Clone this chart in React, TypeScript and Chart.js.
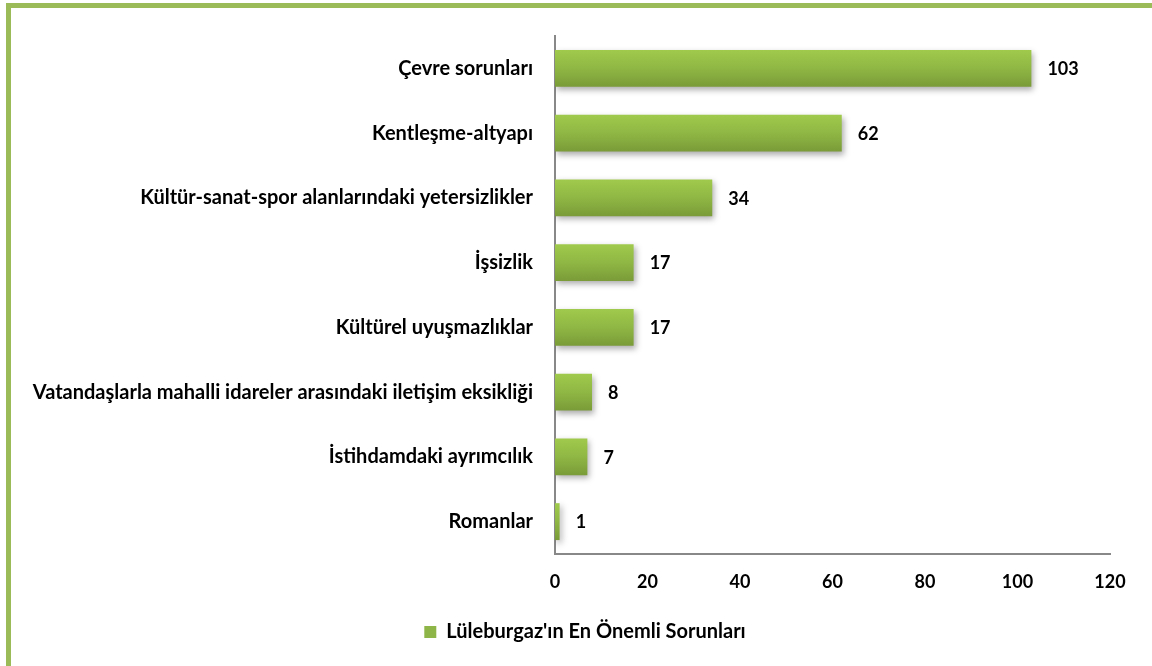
import React, { useEffect, useRef } from "react";
import { Chart, registerables } from "chart.js";

Chart.register(...registerables);

const categories = [
  "Çevre sorunları",
  "Kentleşme-altyapı",
  "Kültür-sanat-spor alanlarındaki yetersizlikler",
  "İşsizlik",
  "Kültürel uyuşmazlıklar",
  "Vatandaşlarla mahalli idareler arasındaki iletişim eksikliği",
  "İstihdamdaki ayrımcılık",
  "Romanlar",
];
const values = [103, 62, 34, 17, 17, 8, 7, 1];
const seriesName = "Lüleburgaz'ın En Önemli Sorunları";
const xTicks = [0, 20, 40, 60, 80, 100, 120];

const FONT = "Lato, 'Open Sans', sans-serif";
const BAR_PCT = 0.57;

export default function App() {
  const ref = useRef<HTMLCanvasElement | null>(null);

  useEffect(() => {
    const canvas = ref.current;
    if (!canvas) return;

    const gradientFor = (c: any) => {
      const chart = c.chart;
      const ys = chart.scales && chart.scales.y;
      if (!ys || c.dataIndex === undefined || ys.top === undefined) return "#8DB347";
      const center = ys.getPixelForValue(c.dataIndex);
      const step = ys.height / categories.length;
      const h = step * BAR_PCT;
      const g = chart.ctx.createLinearGradient(0, center - h / 2, 0, center + h / 2);
      g.addColorStop(0, "#A0CA4C");
      g.addColorStop(0.5, "#8FB744");
      g.addColorStop(1, "#7A9B38");
      return g;
    };

    const shadowPlugin = {
      id: "barShadow",
      afterLayout(chart: any) {
        const lg = chart.legend;
        if (lg) {
          lg.left += 25;
          lg.right += 25;
        }
      },
      beforeDatasetsDraw(chart: any) {
        const ctx = chart.ctx;
        ctx.save();
        ctx.shadowColor = "rgba(0,0,0,0.32)";
        ctx.shadowBlur = 6;
        ctx.shadowOffsetX = 2;
        ctx.shadowOffsetY = 3;
      },
      afterDatasetsDraw(chart: any) {
        const ctx = chart.ctx;
        ctx.restore();
        const meta = chart.getDatasetMeta(0);
        ctx.save();
        ctx.font = `bold 18px ${FONT}`;
        ctx.fillStyle = "#000";
        ctx.textAlign = "left";
        ctx.textBaseline = "middle";
        meta.data.forEach((el: any, i: number) => {
          ctx.fillText(String(values[i]), el.x + 16, el.y + 1);
        });
        ctx.restore();
      },
    };

    const chart = new Chart(canvas, {
      type: "bar",
      data: {
        labels: categories,
        datasets: [
          {
            label: seriesName,
            data: values,
            backgroundColor: gradientFor,
            borderWidth: 0,
            categoryPercentage: BAR_PCT,
            barPercentage: 1,
          },
        ],
      },
      options: {
        indexAxis: "y",
        animation: false,
        responsive: false,
        maintainAspectRatio: false,
        layout: { padding: { left: 10, right: 42, top: 36, bottom: 14 } },
        scales: {
          x: {
            min: 0,
            max: 120,
            afterBuildTicks(scale: any) {
              scale.ticks = xTicks.map((v) => ({ value: v }));
            },
            grid: { display: false, drawTicks: false },
            border: { display: true, color: "#888888", width: 2 },
            ticks: {
              color: "#000",
              padding: 17,
              font: { family: FONT, size: 18, weight: "bold" },
            },
            afterFit(scale: any) {
              scale.height = 60;
            },
          },
          y: {
            grid: { display: false, drawTicks: false },
            border: { display: true, color: "#888888", width: 2 },
            ticks: {
              color: "#000",
              padding: 22,
              font: { family: FONT, size: 20, weight: "bold" },
            },
            afterFit(scale: any) {
              scale.width = 545;
            },
          },
        },
        plugins: {
          legend: {
            position: "bottom",
            labels: {
              color: "#000",
              boxWidth: 12,
              boxHeight: 12,
              padding: 8,
              font: { family: FONT, size: 20, weight: "bold" },
              generateLabels() {
                return [
                  {
                    text: seriesName,
                    fillStyle: "#8DB547",
                    strokeStyle: "#8DB547",
                    lineWidth: 0,
                    hidden: false,
                    datasetIndex: 0,
                  },
                ];
              },
            },
          },
          tooltip: { enabled: false },
        },
      },
      plugins: [shadowPlugin],
    } as any);

    return () => chart.destroy();
  }, []);

  return (
    <div style={{ position: "fixed", left: 0, top: 0, width: 1152, height: 666, background: "#fff" }}>
      <div
        style={{
          position: "absolute",
          left: 6,
          top: 3,
          right: 0,
          bottom: 0,
          borderLeft: "5px solid #9BBB59",
          borderTop: "5px solid #9BBB59",
        }}
      />
      <canvas ref={ref} width={1152} height={666} style={{ position: "absolute", left: 0, top: 0 }} />
    </div>
  );
}
